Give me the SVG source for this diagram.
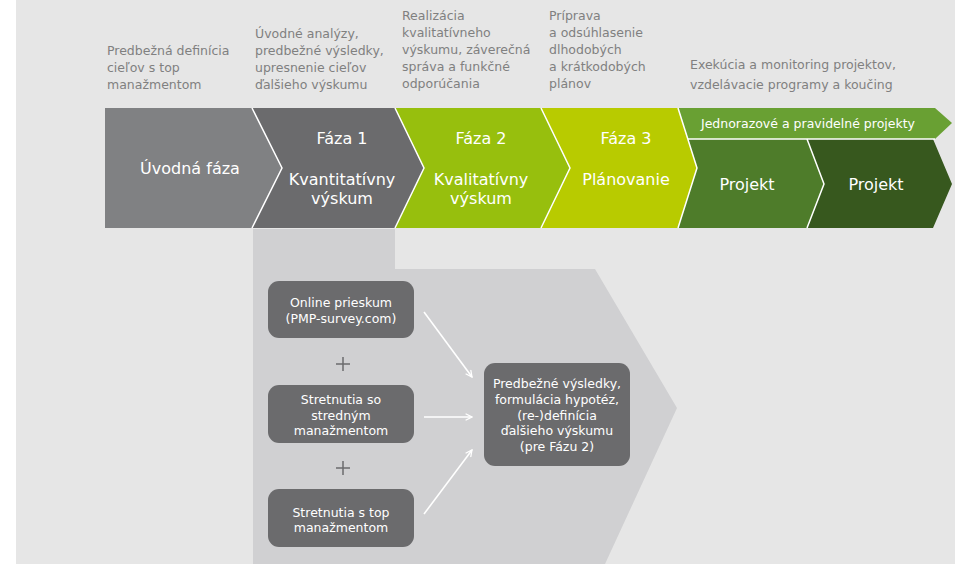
<svg xmlns="http://www.w3.org/2000/svg" width="955" height="564" viewBox="0 0 955 564">
  <defs>
    <style>
      .note { font-family: "DejaVu Sans", Verdana, sans-serif; font-size: 12.5px; fill: #808080; }
      .lbl { font-family: "DejaVu Sans", Verdana, sans-serif; font-size: 16px; fill: #ffffff; text-anchor: middle; }
      .bar { font-family: "DejaVu Sans", Verdana, sans-serif; font-size: 12.5px; fill: #ffffff; text-anchor: middle; }
      .box { font-family: "DejaVu Sans", Verdana, sans-serif; font-size: 12.5px; fill: #ffffff; text-anchor: middle; }
      .seam { fill: none; stroke: #ffffff; stroke-width: 1.5; stroke-linejoin: miter; }
      .card { fill: #6b6b6d; }
      .conn { stroke: #ffffff; stroke-width: 1.6; fill: none; marker-end: url(#arrow); }
      .plus { stroke: #6b6b6d; stroke-width: 1.5; }
    </style>
    <marker id="arrow" viewBox="0 0 10 10" refX="9" refY="5" markerWidth="8" markerHeight="8" markerUnits="userSpaceOnUse" orient="auto">
      <path d="M1,1 L9,5 L1,9" fill="none" stroke="#ffffff" stroke-width="1.6"/>
    </marker>
  </defs>

  <!-- page background -->
  <rect x="0" y="0" width="955" height="564" fill="#ffffff"/>
  <rect x="16" y="0" width="939" height="564" fill="#e6e6e6"/>

  <!-- phase descriptions -->
  <g id="notes">
    <text class="note" x="107" y="55">Predbežná definícia</text>
    <text class="note" x="107" y="72">cieľov s top</text>
    <text class="note" x="107" y="89">manažmentom</text>

    <text class="note" x="255" y="38">Úvodné analýzy,</text>
    <text class="note" x="255" y="55">predbežné výsledky,</text>
    <text class="note" x="255" y="72">upresnenie cieľov</text>
    <text class="note" x="255" y="89">ďalšieho výskumu</text>

    <text class="note" x="402" y="20">Realizácia</text>
    <text class="note" x="402" y="37">kvalitatívneho</text>
    <text class="note" x="402" y="54">výskumu, záverečná</text>
    <text class="note" x="402" y="71">správa a funkčné</text>
    <text class="note" x="402" y="88">odporúčania</text>

    <text class="note" x="549" y="20">Príprava</text>
    <text class="note" x="549" y="37">a odsúhlasenie</text>
    <text class="note" x="549" y="54">dlhodobých</text>
    <text class="note" x="549" y="71">a krátkodobých</text>
    <text class="note" x="549" y="88">plánov</text>

    <text class="note" x="690" y="69">Exekúcia a monitoring projektov,</text>
    <text class="note" x="690" y="89">vzdelávacie programy a koučing</text>
  </g>

  <!-- detail panel of phase 1 -->
  <g id="panel">
    <polygon points="253,229 395,229 395,269 595,269 677,408 605,564 253,564" fill="#d0d0d2"/>
  </g>

  <!-- phase chevrons -->
  <g id="uvodna">
    <polygon points="105,108 252,108 282,168 252,228 105,228" fill="#808183"/>
    <text class="lbl" x="190" y="174">Úvodná fáza</text>
  </g>
  <g id="faza1">
    <polygon points="252,108 395,108 424,168 395,228 252,228 282,168" fill="#6b6b6d"/>
    <text class="lbl" x="342" y="144">Fáza 1</text>
    <text class="lbl" x="342" y="185">Kvantitatívny</text>
    <text class="lbl" x="342" y="204">výskum</text>
  </g>
  <g id="faza2">
    <polygon points="395,108 541,108 570,168 541,228 395,228 424,168" fill="#97bf0d"/>
    <text class="lbl" x="481" y="144">Fáza 2</text>
    <text class="lbl" x="481" y="185">Kvalitatívny</text>
    <text class="lbl" x="481" y="204">výskum</text>
  </g>
  <g id="faza3">
    <polygon points="541,108 678,108 697,168 678,228 541,228 570,168" fill="#b8cb00"/>
    <text class="lbl" x="626" y="144">Fáza 3</text>
    <text class="lbl" x="626" y="185">Plánovanie</text>
  </g>
  <g id="projekty">
    <polygon points="678,108 935,108 952,123 935,139 688,139" fill="#69a033"/>
    <text class="bar" x="808" y="128">Jednorazové a pravidelné projekty</text>
  </g>
  <g id="projekt1">
    <polygon points="688,139 807,139 824,184 807,228 678,228 697,168" fill="#4e7c2a"/>
    <text class="lbl" x="747" y="190">Projekt</text>
  </g>
  <g id="projekt2">
    <polygon points="807,139 933,139 952,184 933,228 807,228 824,184" fill="#37581e"/>
    <text class="lbl" x="876" y="190">Projekt</text>
  </g>

  <!-- white seams between chevrons -->
  <g id="seams">
    <polyline class="seam" points="252,108 282,168 252,228"/>
    <polyline class="seam" points="395,108 424,168 395,228"/>
    <polyline class="seam" points="541,108 570,168 541,228"/>
    <polyline class="seam" points="678,108 697,168 678,228"/>
    <line class="seam" x1="688" y1="139" x2="935" y2="139"/>
    <polyline class="seam" points="807,139 824,184 807,228"/>
  </g>

  <!-- inputs of phase 1 -->
  <g id="online">
    <rect class="card" x="268" y="281" width="146" height="57" rx="11"/>
    <text class="box" x="341" y="307">Online prieskum</text>
    <text class="box" x="341" y="323">(PMP-survey.com)</text>
  </g>
  <g id="plus1">
    <line class="plus" x1="336" y1="364" x2="350" y2="364"/>
    <line class="plus" x1="343" y1="357" x2="343" y2="371"/>
  </g>
  <g id="stredny">
    <rect class="card" x="268" y="385" width="146" height="58" rx="11"/>
    <text class="box" x="341" y="404">Stretnutia so</text>
    <text class="box" x="341" y="420">stredným</text>
    <text class="box" x="341" y="435">manažmentom</text>
  </g>
  <g id="plus2">
    <line class="plus" x1="336" y1="468" x2="350" y2="468"/>
    <line class="plus" x1="343" y1="461" x2="343" y2="475"/>
  </g>
  <g id="top">
    <rect class="card" x="268" y="489" width="146" height="58" rx="11"/>
    <text class="box" x="341" y="517">Stretnutia s top</text>
    <text class="box" x="341" y="532">manažmentom</text>
  </g>
  <g id="vysledky">
    <rect class="card" x="484" y="363" width="146" height="103" rx="11"/>
    <text class="box" x="557" y="388">Predbežné výsledky,</text>
    <text class="box" x="557" y="404">formulácia hypotéz,</text>
    <text class="box" x="557" y="420">(re-)definícia</text>
    <text class="box" x="557" y="435">ďalšieho výskumu</text>
    <text class="box" x="557" y="451">(pre Fázu 2)</text>
  </g>

  <!-- connectors -->
  <g id="connectors">
    <line class="conn" x1="424" y1="312" x2="472" y2="377"/>
    <line class="conn" x1="424" y1="417" x2="472" y2="417"/>
    <line class="conn" x1="424" y1="514" x2="472" y2="450"/>
  </g>
</svg>
